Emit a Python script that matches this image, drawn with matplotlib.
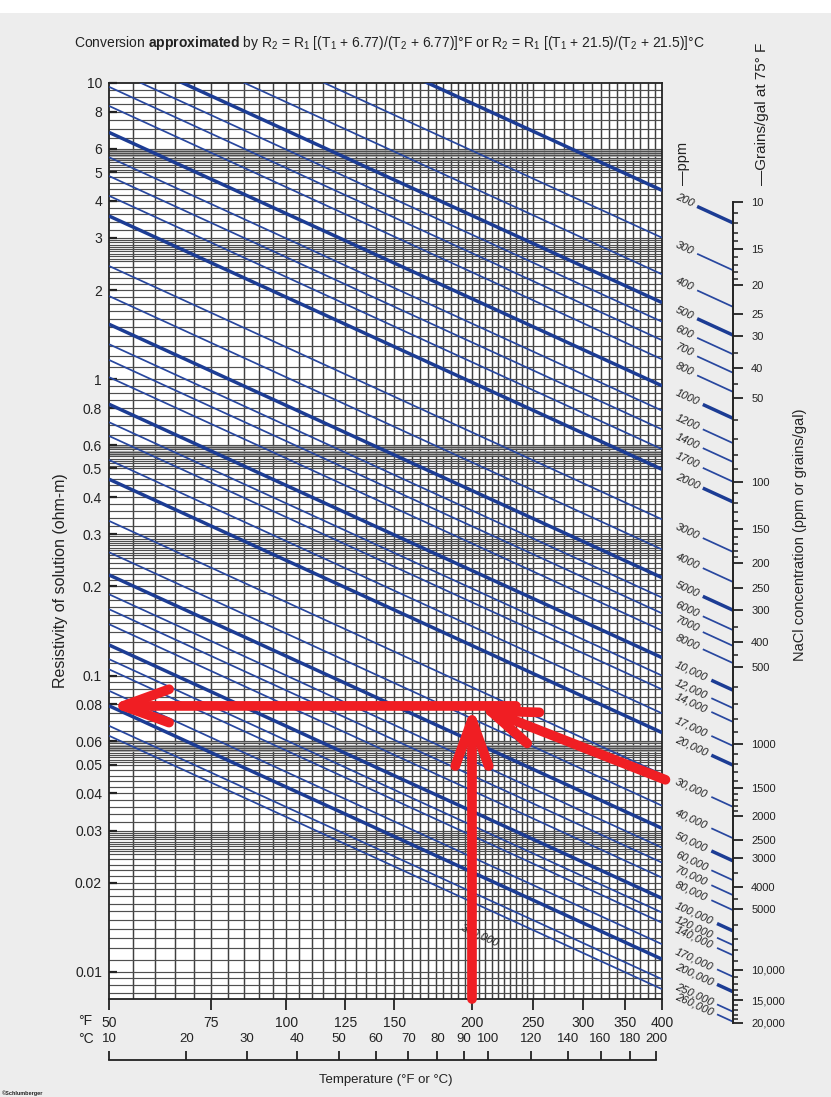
import numpy as np
import matplotlib
matplotlib.use("Agg")
import matplotlib.pyplot as plt
from matplotlib.ticker import FixedLocator, NullLocator, NullFormatter
from matplotlib.patches import Rectangle

plt.rcParams['font.family'] = ['Liberation Sans', 'DejaVu Sans']
plt.rcParams['mathtext.fontset'] = 'custom'
plt.rcParams['mathtext.rm'] = 'Liberation Sans'
plt.rcParams['mathtext.it'] = 'Liberation Sans:italic'
plt.rcParams['mathtext.bf'] = 'Liberation Sans:bold'

# ---------------- data ----------------
ppm_values = [200, 300, 400, 500, 600, 700, 800, 1000, 1200, 1400, 1700, 2000,
              3000, 4000, 5000, 6000, 7000, 8000, 10000, 12000, 14000, 17000, 20000,
              30000, 40000, 50000, 60000, 70000, 80000, 100000, 120000, 140000,
              170000, 200000, 250000, 260000]
ppm_labels = ['200', '300', '400', '500', '600', '700', '800', '1000', '1200', '1400',
              '1700', '2000', '3000', '4000', '5000', '6000', '7000', '8000', '10,000',
              '12,000', '14,000', '17,000', '20,000', '30,000', '40,000', '50,000',
              '60,000', '70,000', '80,000', '100,000', '120,000', '140,000', '170,000',
              '200,000', '250,000', '260,000']
# resistivity of each solution at 75 degF (ohm-m)
r75_ohmm = [21.6, 14.95, 11.25, 9.03, 7.78, 6.74, 5.81, 4.73, 3.90, 3.37, 2.89, 2.47,
            1.675, 1.326, 1.065, 0.912, 0.807, 0.706, 0.572, 0.4975, 0.447, 0.371, 0.3194,
            0.2310, 0.1810, 0.1518, 0.1306, 0.1163, 0.1035, 0.0881, 0.0789, 0.0729,
            0.0617, 0.0549, 0.0470, 0.0435]
thick_ppm = [200, 500, 1000, 2000, 5000, 10000, 20000, 50000, 100000, 200000]

res_ticks = [10, 8, 6, 5, 4, 3, 2, 1, 0.8, 0.6, 0.5, 0.4, 0.3, 0.2, 0.1, 0.08, 0.06,
             0.05, 0.04, 0.03, 0.02, 0.01]
res_tick_labels = ['10', '8', '6', '5', '4', '3', '2', '1', '0.8', '0.6', '0.5', '0.4',
                   '0.3', '0.2', '0.1', '0.08', '0.06', '0.05', '0.04', '0.03', '0.02', '0.01']
degF_ticks = [50, 75, 100, 125, 150, 200, 250, 300, 350, 400]
degC_ticks = [10, 20, 30, 40, 50, 60, 70, 80, 90, 100, 120, 140, 160, 180, 200]

grains_ticks = [10, 15, 20, 25, 30, 40, 50, 100, 150, 200, 250, 300, 400, 500, 1000,
                1500, 2000, 2500, 3000, 4000, 5000, 10000, 15000, 20000]
grains_labels = ['10', '15', '20', '25', '30', '40', '50', '100', '150', '200', '250',
                 '300', '400', '500', '1000', '1500', '2000', '2500', '3000', '4000',
                 '5000', '10,000', '15,000', '20,000']
# resistivity read where each grains/gal tick sits on the scale
grains_res = [3.967, 2.743, 2.081, 1.661, 1.400, 1.088, 0.868, 0.4502, 0.3124, 0.2399,
              0.1976, 0.1665, 0.1298, 0.1068, 0.05875, 0.04174, 0.03359, 0.02787,
              0.02424, 0.01935, 0.01630, 0.01015, 0.00801, 0.00673]
grains_minor = [11, 12, 13, 14, 16, 17, 18, 19, 35, 45, 60, 70, 80, 90,
                110, 120, 130, 140, 160, 170, 180, 190, 350, 450, 600, 700, 800, 900,
                1100, 1200, 1300, 1400, 1600, 1700, 1800, 1900, 3500, 4500,
                6000, 7000, 8000, 9000, 11000, 12000, 13000, 14000,
                16000, 17000, 18000, 19000]

# worked example (red arrows)
arrow_tail_T = [200, 235, 405]
arrow_tail_R = [0.0081, 0.079, 0.0445]
arrow_tip_T = [200, 50, 204]
arrow_tip_R = [0.079, 0.079, 0.079]

T_OFF = 6.77  # from the conversion formula (degF)


def r_at(r75, T):
    return r75 * (75 + T_OFF) / (np.asarray(T, float) + T_OFF)


def fwd(t):
    with np.errstate(invalid='ignore', divide='ignore'):
        return np.log(np.asarray(t, float) + T_OFF)


def inv(u):
    return np.exp(np.asarray(u, float)) - T_OFF


# ---------------- figure ----------------
W, H = 831, 1097
fig = plt.figure(figsize=(W / 100, H / 100), dpi=100)
fig.patch.set_facecolor('#ededed')
fig.patches.append(Rectangle((0, 1 - 13 / H), 1, 13 / H, transform=fig.transFigure,
                             facecolor='white', edgecolor='none', zorder=0))

L, R_, T_, B_ = 109, 662, 83, 999
ax = fig.add_axes([L / W, (H - B_) / H, (R_ - L) / W, (B_ - T_) / H])
ax.set_facecolor('white')
ax.set_xscale('function', functions=(fwd, inv))
ax.set_yscale('log')
ax.set_xlim(50, 400)
ax.set_ylim(0.0081, 10)

# grid
grid_T = np.concatenate([np.arange(55, 250, 5), np.arange(250, 400, 10)])
mant = np.concatenate([np.arange(1.0, 2.5, 0.1), np.arange(2.5, 3.0, 0.05),
                       np.arange(3.0, 5.0, 0.2), np.arange(5.0, 6.0, 0.1),
                       np.arange(6.0, 10.0, 0.5)])
mant_fine = np.arange(5.55, 6.0, 0.1)
grid_R = np.concatenate([mant * 10.0 ** k for k in (-3, -2, -1, 0)])
grid_R = grid_R[(grid_R > 0.0081) & (grid_R < 9.99)]
grid_Rf = np.concatenate([mant_fine * 10.0 ** k for k in (-3, -2, -1, 0)])
grid_Rf = grid_Rf[(grid_Rf > 0.0081) & (grid_Rf < 9.99)]
ax.vlines(grid_T, 0.0081, 10, colors='#3f3f3f', lw=1.05, zorder=1)
ax.hlines(grid_R, 50, 400, colors='#4f4f4f', lw=0.85, zorder=1)
ax.hlines(grid_Rf, 50, 400, colors='#9a9a9a', lw=0.6, zorder=1)

# solution lines
Tg = np.array(ax.get_xlim())
for ppm, r in zip(ppm_values, r75_ohmm):
    thick = ppm in thick_ppm
    ax.plot(Tg, r_at(r, Tg), color='#1c3c94' if thick else '#28479f',
            lw=2.5 if thick else 1.25, zorder=3, solid_capstyle='butt')

# axes styling
for s in ax.spines.values():
    s.set_linewidth(1.3)
    s.set_color('#222222')
ax.yaxis.set_major_locator(FixedLocator(res_ticks))
ax.yaxis.set_minor_locator(NullLocator())
ax.set_yticklabels(res_tick_labels)
ax.tick_params(axis='y', direction='in', length=6, width=1.6, pad=5, labelsize=10,
               colors='#222222')
ax.set_xticks(degF_ticks)
ax.set_xticklabels([str(v) for v in degF_ticks])
ax.xaxis.set_minor_locator(NullLocator())
ax.tick_params(axis='x', direction='out', length=8, width=1.3, pad=4, labelsize=10,
               colors='#222222')

# concentration scale on the right
x_scale_px, x_label_px = 733, 676
T_s = ax.transData.inverted().transform((x_scale_px, 500))[0]
T_lab = ax.transData.inverted().transform((x_label_px, 500))[0]

texts = []
for ppm, lab, r in zip(ppm_values, ppm_labels, r75_ohmm):
    p0 = ax.transData.transform((T_lab, r_at(r, T_lab)))
    p1 = ax.transData.transform((T_s, r_at(r, T_s)))
    ang = np.degrees(np.arctan2(p1[1] - p0[1], p1[0] - p0[0]))
    t = ax.text(T_lab, r_at(r, T_lab), lab, rotation=ang, rotation_mode='anchor',
                ha='left', va='center', fontsize=8, style='italic', color='#222222',
                clip_on=False)
    texts.append(t)

# in-grid label of the saturation line
pa = ax.transData.transform((150, r_at(1, 150)))
pb = ax.transData.transform((300, r_at(1, 300)))
ang_all = np.degrees(np.arctan2(pb[1] - pa[1], pb[0] - pa[0]))
ax.text(206, 0.0133, '300,000', rotation=ang_all, rotation_mode='anchor', ha='center',
        va='center', fontsize=8, style='italic', color='#222222', zorder=4)

fig.canvas.draw()
renderer = fig.canvas.get_renderer()
for t, ppm, r in zip(texts, ppm_values, r75_ohmm):
    bb = t.get_window_extent(renderer)
    T_start = ax.transData.inverted().transform((bb.x1 + 2, 500))[0]
    Ts = np.array([T_start, T_s])
    thick = ppm in thick_ppm
    ax.plot(Ts, r_at(r, Ts), color='#1c3c94' if thick else '#28479f',
            lw=2.5 if thick else 1.25, zorder=3, clip_on=False, solid_capstyle='butt')

ybot_px = 1035
ax_r = fig.add_axes([x_scale_px / W, (H - ybot_px) / H, 1e-4, (ybot_px - T_) / H])
ax_r.set_yscale('log')
r_lo = ax.transData.inverted().transform((300, H - ybot_px))[1]
ax_r.set_ylim(r_lo, 10)
ax_r.patch.set_alpha(0)
ax_r.set_xticks([])
for k in ('left', 'top', 'bottom'):
    ax_r.spines[k].set_visible(False)
ax_r.spines['right'].set_bounds(grains_res[-1], grains_res[0])
ax_r.spines['right'].set_linewidth(1.4)
ax_r.spines['right'].set_color('#222222')
ax_r.yaxis.set_ticks_position('right')
ax_r.yaxis.set_major_locator(FixedLocator(grains_res))
ax_r.set_yticklabels(grains_labels)
lg = np.log10(grains_ticks)
lr = np.log10(grains_res)
minor_res = 10 ** np.interp(np.log10(grains_minor), lg, lr)
ax_r.yaxis.set_minor_locator(FixedLocator(minor_res))
ax_r.yaxis.set_minor_formatter(NullFormatter())
ax_r.tick_params(axis='y', which='major', direction='out', length=7, width=1.3, pad=6,
                 labelsize=8, colors='#222222')
ax_r.tick_params(axis='y', which='minor', direction='out', length=3.5, width=1.1,
                 colors='#222222')

# Celsius scale
ax_c = fig.add_axes([L / W, (H - 1060) / H, (R_ - L) / W, 1e-4])
ax_c.set_xscale('function', functions=(fwd, inv))
ax_c.set_xlim(50, 400)
ax_c.patch.set_alpha(0)
ax_c.set_yticks([])
ax_c.set_xticks([1.8 * c + 32 for c in degC_ticks])
ax_c.set_xticklabels([str(c) for c in degC_ticks])
ax_c.xaxis.set_minor_locator(NullLocator())
ax_c.xaxis.set_ticks_position('top')
ax_c.tick_params(axis='x', direction='out', length=6.5, width=1.3, pad=4, labelsize=9.5,
                 top=True, labeltop=True, bottom=False, labelbottom=False, colors='#222222')
for k in ('left', 'right', 'bottom'):
    ax_c.spines[k].set_visible(False)
ax_c.spines['top'].set_bounds(1.8 * degC_ticks[0] + 32, 1.8 * degC_ticks[-1] + 32)
ax_c.spines['top'].set_linewidth(1.3)
ax_c.spines['top'].set_color('#222222')

# red worked-example arrows
for tt, tr, ht, hr in zip(arrow_tail_T, arrow_tail_R, arrow_tip_T, arrow_tip_R):
    ax.annotate('', xy=(ht, hr), xytext=(tt, tr), annotation_clip=False,
                arrowprops=dict(arrowstyle='->,head_length=3.3,head_width=1.2',
                                color='#f01e23', lw=7, shrinkA=0, shrinkB=0,
                                mutation_scale=10), zorder=10)

# texts
txtc = '#222222'
fig.text(389 / W, 1 - 43 / H,
         r"Conversion $\mathbf{approximated}$ by R$_2$ = R$_1$ [(T$_1$ + 6.77)/(T$_2$ + 6.77)]°F or "
         r"R$_2$ = R$_1$ [(T$_1$ + 21.5)/(T$_2$ + 21.5)]°C",
         ha='center', va='center', fontsize=10, color=txtc)
fig.text(60 / W, 1 - 581 / H, 'Resistivity of solution (ohm-m)', rotation=90,
         ha='center', va='center', fontsize=11.5, color=txtc)
fig.text(800 / W, 1 - 535 / H, 'NaCl concentration (ppm or grains/gal)', rotation=90,
         ha='center', va='center', fontsize=10.5, color=txtc)
fig.text(683 / W, 1 - 185 / H, '—ppm', rotation=90, ha='center', va='bottom',
         fontsize=10.5, color=txtc)
fig.text(762 / W, 1 - 185 / H, '—Grains/gal at 75° F', rotation=90, ha='center',
         va='bottom', fontsize=11, color=txtc)
fig.text(85 / W, 1 - 1021 / H, '°F', ha='center', va='center', fontsize=10, color=txtc)
fig.text(86 / W, 1 - 1039 / H, '°C', ha='center', va='center', fontsize=10, color=txtc)
fig.text(385.5 / W, 1 - 1080 / H, 'Temperature (°F or °C)', ha='center', va='center',
         fontsize=9.5, color=txtc)
fig.text(2 / W, 1 - 1093 / H, '©Schlumberger', ha='left', va='center', fontsize=4,
         weight='bold', color=txtc)

fig.savefig('out.png', dpi=100, facecolor=fig.get_facecolor())
